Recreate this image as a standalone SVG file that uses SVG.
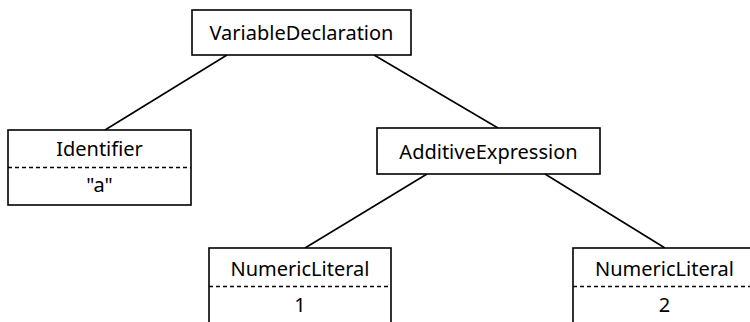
<svg xmlns="http://www.w3.org/2000/svg" width="750" height="322" viewBox="0 0 750 322">
<style>
.box{fill:#fff;stroke:#000;stroke-width:1.6}
.dash{stroke:#000;stroke-width:1.4;stroke-dasharray:4 3}
.edge{stroke:#000;stroke-width:1.6;fill:none}
text{font-family:"Noto Sans","Noto Sans CJK JP",sans-serif;font-size:20px;fill:#000;text-anchor:middle}
</style>
<rect width="750" height="322" fill="#fff"/>
<g id="connectors">
<line class="edge" x1="227" y1="55" x2="105" y2="130"/>
<line class="edge" x1="374" y1="55" x2="498" y2="128"/>
<line class="edge" x1="427" y1="174" x2="305" y2="248"/>
<line class="edge" x1="545" y1="174" x2="665" y2="248"/>
</g>
<g id="VariableDeclaration">
<rect class="box" x="192" y="10" width="219" height="45"/>
<text x="301.5" y="39.5">VariableDeclaration</text>
</g>
<g id="Identifier">
<rect class="box" x="8" y="130" width="183" height="75"/>
<line class="dash" x1="8" y1="167.5" x2="191" y2="167.5"/>
<text x="99.5" y="156">Identifier</text>
<text x="99.5" y="192">"a"</text>
</g>
<g id="AdditiveExpression">
<rect class="box" x="377" y="128" width="223" height="46"/>
<text x="488.5" y="158.5">AdditiveExpression</text>
</g>
<g id="NumericLiteral1">
<rect class="box" x="209" y="248" width="182" height="76"/>
<line class="dash" x1="209" y1="286.5" x2="391" y2="286.5"/>
<text x="300" y="275.5">NumericLiteral</text>
<text x="300" y="312">1</text>
</g>
<g id="NumericLiteral2">
<rect class="box" x="573" y="248" width="183" height="76"/>
<line class="dash" x1="573" y1="286.5" x2="756" y2="286.5"/>
<text x="664.5" y="275.5">NumericLiteral</text>
<text x="664.5" y="312">2</text>
</g>
</svg>
